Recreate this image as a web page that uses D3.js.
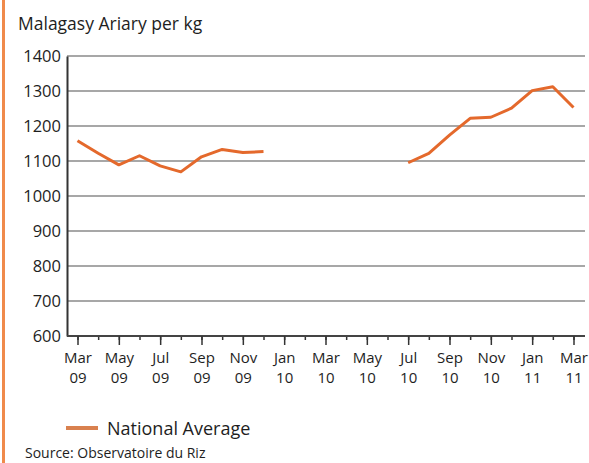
<!DOCTYPE html>
<html><head><meta charset="utf-8">
<script src="https://cdn.jsdelivr.net/npm/d3@7"></script>
<style>
html,body{margin:0;padding:0;background:#fff;}
svg{display:block;font-family:"Open Sans",sans-serif;}
</style></head>
<body>
<svg id="c" width="589" height="463"></svg>
<script>
const months = ["Mar 09","Apr 09","May 09","Jun 09","Jul 09","Aug 09","Sep 09","Oct 09","Nov 09","Dec 09",
"Jan 10","Feb 10","Mar 10","Apr 10","May 10","Jun 10","Jul 10","Aug 10","Sep 10","Oct 10","Nov 10","Dec 10",
"Jan 11","Feb 11","Mar 11"];
const nationalAverage = [1158,1122,1089,1115,1086,1069,1112,1133,1124,1127,
null,null,null,null,null,null,1095,1122,1174,1222,1225,1251,1301,1312,1253];
const yTicks = [600,700,800,900,1000,1100,1200,1300,1400];
const labelledMonths = months.filter((m,i)=>i%2===0);
const title = "Malagasy Ariary per kg";
const seriesName = "National Average";
const source = "Source: Observatoire du Riz";

const svg = d3.select("#c");
const x = d3.scalePoint().domain(months).range([77.5,573.5]);
const y = d3.scaleLinear().domain([600,1400]).range([336,56]);
const orange = "#e4692c";
const ink = "#1e1e1e";

// left orange border
svg.append("rect").attr("x",2).attr("y",0).attr("width",3).attr("height",463).attr("fill","#f08a4b");

svg.append("text").attr("x",18).attr("y",30).attr("font-size",17.5).attr("fill",ink).text(title);

// gridlines
svg.append("g").selectAll("line").data(yTicks.slice(1)).join("line")
  .attr("x1",67).attr("x2",585).attr("y1",d=>y(d)).attr("y2",d=>y(d))
  .attr("stroke","#8a8a8a").attr("stroke-width",1.4);

// y axis
const ya = svg.append("g").attr("transform","translate(67,0)")
  .call(d3.axisLeft(y).tickValues(yTicks).tickFormat(d3.format("d")).tickSize(0).tickPadding(6));
ya.select(".domain").attr("stroke","#333").attr("stroke-width",2);
ya.selectAll("text").attr("font-size",16.5).attr("fill",ink).attr("font-family","Open Sans");

// x axis minor ticks
const xm = svg.append("g").attr("transform","translate(0,336)")
  .call(d3.axisBottom(x).tickValues(months).tickSize(4).tickFormat(""));
xm.select(".domain").remove();
xm.selectAll("line").attr("stroke","#333").attr("stroke-width",1.5);
// x axis major
const xa = svg.append("g").attr("transform","translate(0,336)")
  .call(d3.axisBottom(x).tickValues(labelledMonths).tickSize(9).tickFormat(""));
xa.select(".domain").attr("d","M67,0H585").attr("stroke","#444").attr("stroke-width",2.2);
xa.selectAll("line").attr("stroke","#333").attr("stroke-width",1.5);
xa.selectAll(".tick").each(function(d){
  const [m,yr] = d.split(" ");
  const t = d3.select(this).append("text").attr("fill",ink).attr("font-size",15)
    .attr("font-family","Open Sans").attr("text-anchor","middle");
  t.append("tspan").attr("x",0).attr("y",27).text(m);
  t.append("tspan").attr("x",0).attr("y",47).text(yr);
});

// line
const line = d3.line().defined(d=>d.v!=null).x(d=>x(d.m)).y(d=>y(d.v));
svg.append("path").datum(months.map((m,i)=>({m,v:nationalAverage[i]})))
  .attr("d",line).attr("fill","none").attr("stroke",orange).attr("stroke-width",3)
  .attr("stroke-linejoin","round");

// legend
svg.append("line").attr("x1",66).attr("x2",98).attr("y1",428).attr("y2",428)
  .attr("stroke","#d9814f").attr("stroke-width",4);
svg.append("text").attr("x",107).attr("y",435).attr("font-size",18).attr("fill",ink).text(seriesName);
svg.append("text").attr("x",25).attr("y",458).attr("font-size",14).attr("fill",ink).text(source);
</script>
</body></html>
